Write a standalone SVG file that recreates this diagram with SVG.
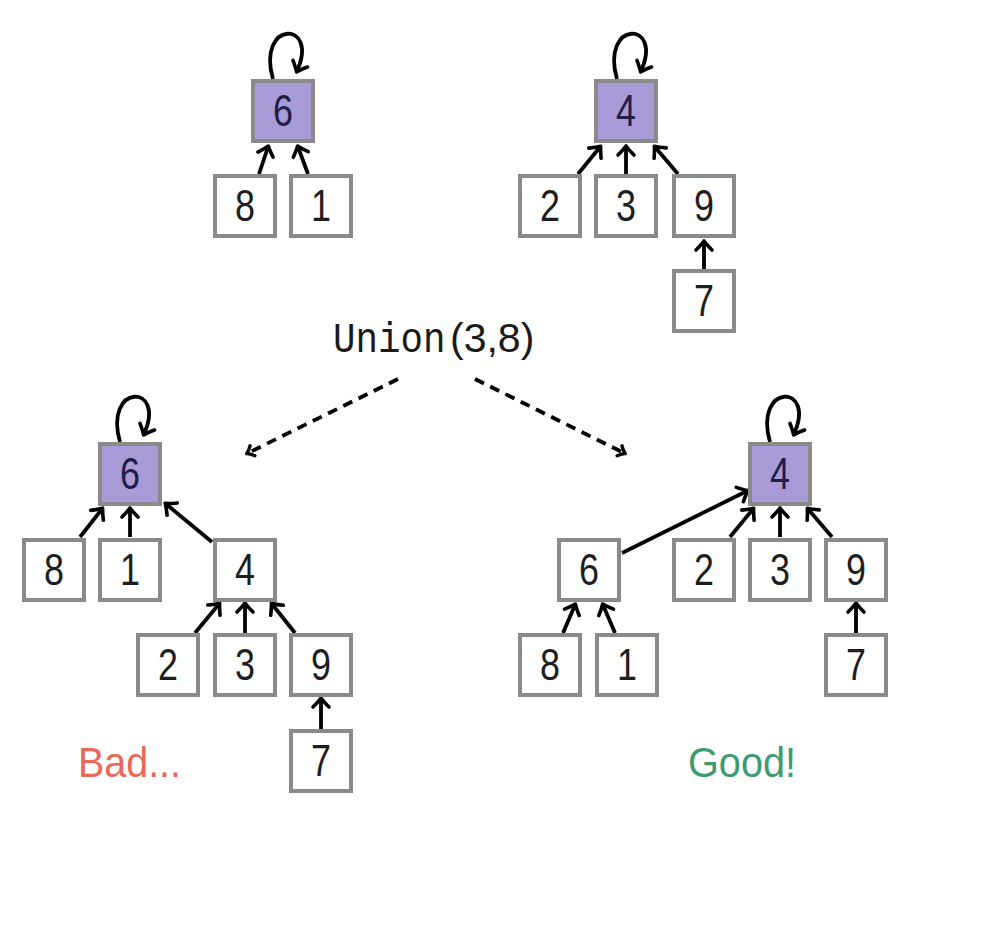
<svg xmlns="http://www.w3.org/2000/svg" width="996" height="932" viewBox="0 0 996 932">
  <defs>
    <style>
      .box { fill: #ffffff; stroke: #8a8a8a; stroke-width: 4; }
      .root { fill: #a99bd8; stroke: #8a8a8a; stroke-width: 4; }
      .num { font-family: "Liberation Sans", Arial, sans-serif; font-size: 44px; fill: #1e1e1e; text-anchor: middle; }
      .rootnum { fill: #231d4a; }
      .edge { fill: none; stroke: #000; stroke-width: 3.8; stroke-linecap: butt; marker-end: url(#tip); }
      .dash { fill: none; stroke: #000; stroke-width: 3.8; stroke-dasharray: 10 7; marker-end: url(#tipSmall); }
      .cmd { fill: #1a1a1a; }
    </style>
    <!-- open "to"-style arrowhead -->
    <marker id="tip" markerUnits="userSpaceOnUse" markerWidth="24" markerHeight="24" viewBox="-12 -12 24 24" refX="0" refY="0" orient="auto" overflow="visible">
      <path d="M-8,-8 Q-2.5,-2.5 1,0 Q-2.5,2.5 -8,8" fill="none" stroke="#000" stroke-width="3.6" stroke-linecap="round" stroke-linejoin="round"/>
    </marker>
    <marker id="tipSmall" markerUnits="userSpaceOnUse" markerWidth="20" markerHeight="20" viewBox="-10 -10 20 20" refX="0" refY="0" orient="auto" overflow="visible">
      <path d="M-5,-5.5 Q-1.5,-1.5 1.5,0 Q-1.5,1.5 -5,5.5" fill="none" stroke="#000" stroke-width="3.4" stroke-linecap="round" stroke-linejoin="round"/>
    </marker>
  </defs>

  <rect width="996" height="932" fill="#ffffff"/>

  <!-- connectors -->
  <g id="connectors">
    <!-- top-left tree -->
    <path class="edge" d="M273,79 C256,20 320,20 297,71"/>
    <line class="edge" x1="259" y1="174" x2="268" y2="147"/>
    <line class="edge" x1="308" y1="174" x2="298" y2="147"/>
    <!-- top-right tree -->
    <path class="edge" d="M617,79 C600,20 664,20 641,71"/>
    <line class="edge" x1="578" y1="174" x2="600" y2="147"/>
    <line class="edge" x1="626" y1="174" x2="626" y2="147"/>
    <line class="edge" x1="678" y1="174" x2="655" y2="147"/>
    <line class="edge" x1="704" y1="269" x2="704" y2="242"/>
    <!-- union arrows -->
    <line class="dash" x1="398" y1="379" x2="248" y2="453"/>
    <line class="dash" x1="475" y1="379" x2="624" y2="453"/>
    <!-- bad result -->
    <path class="edge" d="M120,442 C103,383 167,383 144,434"/>
    <line class="edge" x1="80" y1="537" x2="102" y2="509"/>
    <line class="edge" x1="130" y1="537" x2="130" y2="509"/>
    <line class="edge" x1="212" y1="542" x2="166" y2="504"/>
    <line class="edge" x1="195" y1="633" x2="219" y2="604"/>
    <line class="edge" x1="245" y1="633" x2="245" y2="604"/>
    <line class="edge" x1="295" y1="633" x2="272" y2="604"/>
    <line class="edge" x1="321" y1="729" x2="321" y2="699"/>
    <!-- good result -->
    <path class="edge" d="M770,442 C753,383 817,383 794,434"/>
    <line class="edge" x1="622" y1="553" x2="747" y2="491"/>
    <line class="edge" x1="730" y1="537" x2="753" y2="509"/>
    <line class="edge" x1="780" y1="537" x2="780" y2="509"/>
    <line class="edge" x1="832" y1="537" x2="808" y2="509"/>
    <line class="edge" x1="563" y1="633" x2="575" y2="605"/>
    <line class="edge" x1="615" y1="633" x2="603" y2="605"/>
    <line class="edge" x1="856" y1="633" x2="856" y2="604"/>
  </g>

  <!-- top-left tree -->
  <g id="tl-6"><rect class="root" x="253" y="81" width="60" height="60"/><text class="num rootnum" x="283" y="126" textLength="20" lengthAdjust="spacingAndGlyphs">6</text></g>
  <g id="tl-8"><rect class="box" x="215" y="176" width="60" height="60"/><text class="num" x="245" y="221" textLength="20" lengthAdjust="spacingAndGlyphs">8</text></g>
  <g id="tl-1"><rect class="box" x="291" y="176" width="60" height="60"/><text class="num" x="321" y="221" textLength="20" lengthAdjust="spacingAndGlyphs">1</text></g>

  <!-- top-right tree -->
  <g id="tr-4"><rect class="root" x="596" y="81" width="60" height="60"/><text class="num rootnum" x="626" y="126" textLength="20" lengthAdjust="spacingAndGlyphs">4</text></g>
  <g id="tr-2"><rect class="box" x="520" y="176" width="60" height="60"/><text class="num" x="550" y="221" textLength="20" lengthAdjust="spacingAndGlyphs">2</text></g>
  <g id="tr-3"><rect class="box" x="596" y="176" width="60" height="60"/><text class="num" x="626" y="221" textLength="20" lengthAdjust="spacingAndGlyphs">3</text></g>
  <g id="tr-9"><rect class="box" x="674" y="176" width="60" height="60"/><text class="num" x="704" y="221" textLength="20" lengthAdjust="spacingAndGlyphs">9</text></g>
  <g id="tr-7"><rect class="box" x="674" y="271" width="60" height="60"/><text class="num" x="704" y="316" textLength="20" lengthAdjust="spacingAndGlyphs">7</text></g>

  <!-- operation label: mono command name, sans arguments -->
  <g id="union-label">
    <text class="cmd" transform="translate(333,352) scale(1,1.12)" x="0" y="0" font-family="Liberation Mono, Courier New, monospace" font-size="37.5">Union</text>
    <text class="cmd" x="450" y="352" font-family="Liberation Sans, Arial, sans-serif" font-size="41">(3,8)</text>
  </g>

  <!-- result: root of larger tree attached below -->
  <g id="bl-6"><rect class="root" x="100" y="444" width="60" height="60"/><text class="num rootnum" x="130" y="489" textLength="20" lengthAdjust="spacingAndGlyphs">6</text></g>
  <g id="bl-8"><rect class="box" x="24" y="540" width="60" height="60"/><text class="num" x="54" y="585" textLength="20" lengthAdjust="spacingAndGlyphs">8</text></g>
  <g id="bl-1"><rect class="box" x="100" y="540" width="60" height="60"/><text class="num" x="130" y="585" textLength="20" lengthAdjust="spacingAndGlyphs">1</text></g>
  <g id="bl-4"><rect class="box" x="215" y="540" width="60" height="60"/><text class="num" x="245" y="585" textLength="20" lengthAdjust="spacingAndGlyphs">4</text></g>
  <g id="bl-2"><rect class="box" x="138" y="635" width="60" height="60"/><text class="num" x="168" y="680" textLength="20" lengthAdjust="spacingAndGlyphs">2</text></g>
  <g id="bl-3"><rect class="box" x="215" y="635" width="60" height="60"/><text class="num" x="245" y="680" textLength="20" lengthAdjust="spacingAndGlyphs">3</text></g>
  <g id="bl-9"><rect class="box" x="291" y="635" width="60" height="60"/><text class="num" x="321" y="680" textLength="20" lengthAdjust="spacingAndGlyphs">9</text></g>
  <g id="bl-7"><rect class="box" x="291" y="731" width="60" height="60"/><text class="num" x="321" y="776" textLength="20" lengthAdjust="spacingAndGlyphs">7</text></g>
  <g id="bad-label"><text x="78" y="777" font-family="Liberation Sans, Arial, sans-serif" font-size="42" fill="#e8685a" textLength="103" lengthAdjust="spacingAndGlyphs">Bad...</text></g>

  <!-- result: smaller tree attached below larger root -->
  <g id="br-4"><rect class="root" x="750" y="444" width="60" height="60"/><text class="num rootnum" x="780" y="489" textLength="20" lengthAdjust="spacingAndGlyphs">4</text></g>
  <g id="br-6"><rect class="box" x="559" y="540" width="60" height="60"/><text class="num" x="589" y="585" textLength="20" lengthAdjust="spacingAndGlyphs">6</text></g>
  <g id="br-2"><rect class="box" x="674" y="540" width="60" height="60"/><text class="num" x="704" y="585" textLength="20" lengthAdjust="spacingAndGlyphs">2</text></g>
  <g id="br-3"><rect class="box" x="750" y="540" width="60" height="60"/><text class="num" x="780" y="585" textLength="20" lengthAdjust="spacingAndGlyphs">3</text></g>
  <g id="br-9"><rect class="box" x="826" y="540" width="60" height="60"/><text class="num" x="856" y="585" textLength="20" lengthAdjust="spacingAndGlyphs">9</text></g>
  <g id="br-8"><rect class="box" x="520" y="635" width="60" height="60"/><text class="num" x="550" y="680" textLength="20" lengthAdjust="spacingAndGlyphs">8</text></g>
  <g id="br-1"><rect class="box" x="597" y="635" width="60" height="60"/><text class="num" x="627" y="680" textLength="20" lengthAdjust="spacingAndGlyphs">1</text></g>
  <g id="br-7"><rect class="box" x="826" y="635" width="60" height="60"/><text class="num" x="856" y="680" textLength="20" lengthAdjust="spacingAndGlyphs">7</text></g>
  <g id="good-label"><text x="688" y="777" font-family="Liberation Sans, Arial, sans-serif" font-size="42" fill="#3f9a70" textLength="108" lengthAdjust="spacingAndGlyphs">Good!</text></g>
</svg>
